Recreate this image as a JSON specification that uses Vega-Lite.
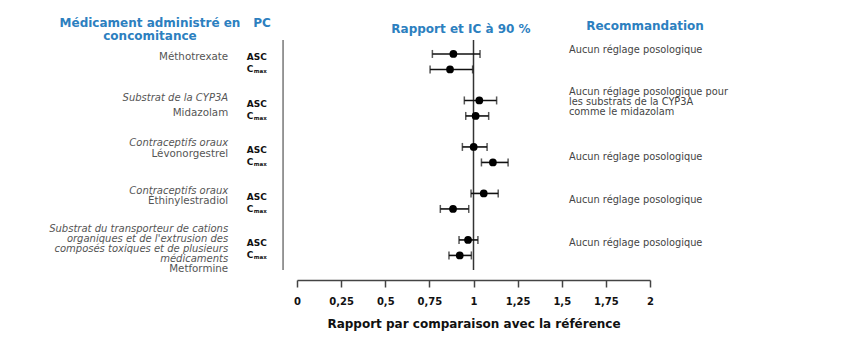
{
  "$schema": "https://vega.github.io/schema/vega-lite/v6.json",
  "autosize": {"type": "none"},
  "width": 353,
  "height": 230,
  "padding": {"left": 297, "top": 40, "right": 201, "bottom": 69},
  "background": "white",
  "config": {"view": {"stroke": null}, "font": "DejaVu Sans"},
  "datasets": {
    "pk": [
      {"drug": "Méthotrexate", "pc": "ASC", "pos": 0, "ratio": 0.886, "lo": 0.767, "hi": 1.037},
      {"drug": "Méthotrexate", "pc": "Cmax", "pos": 1, "ratio": 0.867, "lo": 0.754, "hi": 0.995},
      {"drug": "Midazolam", "pc": "ASC", "pos": 3, "ratio": 1.033, "lo": 0.948, "hi": 1.131},
      {"drug": "Midazolam", "pc": "Cmax", "pos": 4, "ratio": 1.012, "lo": 0.956, "hi": 1.086},
      {"drug": "Lévonorgestrel", "pc": "ASC", "pos": 6, "ratio": 1.001, "lo": 0.937, "hi": 1.077},
      {"drug": "Lévonorgestrel", "pc": "Cmax", "pos": 7, "ratio": 1.11, "lo": 1.045, "hi": 1.196},
      {"drug": "Éthinylestradiol", "pc": "ASC", "pos": 9, "ratio": 1.058, "lo": 0.986, "hi": 1.14},
      {"drug": "Éthinylestradiol", "pc": "Cmax", "pos": 10, "ratio": 0.884, "lo": 0.812, "hi": 0.973},
      {"drug": "Metformine", "pc": "ASC", "pos": 12, "ratio": 0.969, "lo": 0.918, "hi": 1.025},
      {"drug": "Metformine", "pc": "Cmax", "pos": 13, "ratio": 0.922, "lo": 0.861, "hi": 0.988}
    ],
    "labels": [
      {"pos": 0.19, "text": "Méthotrexate", "style": "normal"},
      {"pos": 2.84, "text": "Substrat de la CYP3A", "style": "italic"},
      {"pos": 3.83, "text": "Midazolam", "style": "normal"},
      {"pos": 5.74, "text": "Contraceptifs oraux", "style": "italic"},
      {"pos": 6.45, "text": "Lévonorgestrel", "style": "normal"},
      {"pos": 8.82, "text": "Contraceptifs oraux", "style": "italic"},
      {"pos": 9.48, "text": "Éthinylestradiol", "style": "normal"},
      {"pos": 11.29, "text": "Substrat du transporteur de cations\norganiques et de l'extrusion des\ncomposés toxiques et de plusieurs\nmédicaments", "style": "italic"},
      {"pos": 13.89, "text": "Metformine", "style": "normal"}
    ],
    "recs": [
      {"pos": -0.26, "text": "Aucun réglage posologique"},
      {"pos": 2.45, "text": "Aucun réglage posologique pour\nles substrats de la CYP3A\ncomme le midazolam"},
      {"pos": 6.65, "text": "Aucun réglage posologique"},
      {"pos": 9.42, "text": "Aucun réglage posologique"},
      {"pos": 12.19, "text": "Aucun réglage posologique"}
    ]
  },
  "layer": [
    {
      "data": {"name": "pk"},
      "mark": {"type": "circle", "opacity": 0, "size": 1},
      "encoding": {
        "x": {
          "field": "ratio", "type": "quantitative",
          "scale": {"domain": [0, 2], "zero": false, "nice": false},
          "axis": {
            "values": [0, 0.25, 0.5, 0.75, 1, 1.25, 1.5, 1.75, 2],
            "labelExpr": "replace(format(datum.value, '~g'), '.', ',')",
            "title": "Rapport par comparaison avec la référence",
            "offset": 10, "grid": false,
            "domainColor": "#444", "domainWidth": 1.5,
            "tickColor": "#444", "tickWidth": 1.5, "tickSize": 7,
            "labelFont": "DejaVu Sans", "labelFontWeight": "bold", "labelFontSize": 10,
            "labelColor": "#111", "labelPadding": 9, "labelFlush": false, "labelOverlap": false,
            "titleFont": "DejaVu Sans", "titleFontWeight": "bold", "titleFontSize": 12,
            "titleColor": "#111", "titlePadding": 12
          }
        },
        "y": {
          "field": "pos", "type": "quantitative",
          "scale": {"domain": [-0.9, 13.94], "reverse": true, "zero": false, "nice": false},
          "axis": null
        }
      }
    },
    {
      "data": {"values": [{}]},
      "mark": {"type": "rule", "color": "#333", "strokeWidth": 1.5},
      "encoding": {"x": {"datum": 1, "type": "quantitative"}}
    },
    {
      "data": {"values": [{}]},
      "mark": {"type": "rule", "color": "#777", "strokeWidth": 1.5},
      "encoding": {"x": {"datum": -0.079, "type": "quantitative"}}
    },
    {
      "data": {"name": "pk"},
      "mark": {"type": "rule", "color": "#111", "strokeWidth": 1.6},
      "encoding": {
        "x": {"field": "lo", "type": "quantitative"},
        "x2": {"field": "hi"},
        "y": {"field": "pos", "type": "quantitative", "axis": null}
      }
    },
    {
      "data": {"name": "pk"},
      "mark": {"type": "tick", "orient": "vertical", "color": "#111", "size": 8, "thickness": 1.5},
      "encoding": {
        "x": {"field": "lo", "type": "quantitative"},
        "y": {"field": "pos", "type": "quantitative", "axis": null}
      }
    },
    {
      "data": {"name": "pk"},
      "mark": {"type": "tick", "orient": "vertical", "color": "#111", "size": 8, "thickness": 1.5},
      "encoding": {
        "x": {"field": "hi", "type": "quantitative"},
        "y": {"field": "pos", "type": "quantitative", "axis": null}
      }
    },
    {
      "data": {"name": "pk"},
      "mark": {"type": "circle", "color": "#000", "opacity": 1, "size": 60},
      "encoding": {
        "x": {"field": "ratio", "type": "quantitative"},
        "y": {"field": "pos", "type": "quantitative", "axis": null}
      }
    },
    {
      "data": {"name": "pk"},
      "transform": [{"filter": "datum.pc == 'ASC'"}],
      "mark": {"type": "text", "align": "left", "baseline": "middle", "fontWeight": "bold", "fontSize": 9, "color": "#111", "dy": 3.5},
      "encoding": {
        "x": {"datum": -0.285, "type": "quantitative"},
        "y": {"field": "pos", "type": "quantitative", "axis": null},
        "text": {"field": "pc"}
      }
    },
    {
      "data": {"name": "pk"},
      "transform": [{"filter": "datum.pc == 'Cmax'"}],
      "mark": {"type": "text", "align": "left", "baseline": "middle", "fontWeight": "bold", "fontSize": 9, "color": "#111", "text": "C"},
      "encoding": {
        "x": {"datum": -0.285, "type": "quantitative"},
        "y": {"field": "pos", "type": "quantitative", "axis": null}
      }
    },
    {
      "data": {"name": "pk"},
      "transform": [{"filter": "datum.pc == 'Cmax'"}],
      "mark": {"type": "text", "align": "left", "baseline": "middle", "fontWeight": "bold", "fontSize": 5.5, "color": "#111", "text": "max", "dx": 7, "dy": 2},
      "encoding": {
        "x": {"datum": -0.285, "type": "quantitative"},
        "y": {"field": "pos", "type": "quantitative", "axis": null}
      }
    },
    {
      "data": {"name": "labels"},
      "transform": [{"filter": "datum.style == 'italic'"}],
      "mark": {"type": "text", "align": "right", "baseline": "middle", "fontStyle": "italic", "fontSize": 10, "color": "#555", "lineBreak": "\n", "lineHeight": 10},
      "encoding": {
        "x": {"datum": -0.39, "type": "quantitative"},
        "y": {"field": "pos", "type": "quantitative", "axis": null},
        "text": {"field": "text"}
      }
    },
    {
      "data": {"name": "labels"},
      "transform": [{"filter": "datum.style == 'normal'"}],
      "mark": {"type": "text", "align": "right", "baseline": "middle", "fontSize": 10.3, "color": "#555"},
      "encoding": {
        "x": {"datum": -0.39, "type": "quantitative"},
        "y": {"field": "pos", "type": "quantitative", "axis": null},
        "text": {"field": "text"}
      }
    },
    {
      "data": {"name": "recs"},
      "mark": {"type": "text", "align": "left", "baseline": "middle", "fontSize": 9.8, "color": "#444", "lineBreak": "\n", "lineHeight": 9.8},
      "encoding": {
        "x": {"datum": 1.541, "type": "quantitative"},
        "y": {"field": "pos", "type": "quantitative", "axis": null},
        "text": {"field": "text"}
      }
    },
    {
      "data": {"values": [{}]},
      "mark": {"type": "text", "align": "center", "baseline": "middle", "fontWeight": "bold", "fontSize": 12, "color": "#2c80bf", "lineBreak": "\n", "lineHeight": 13.5, "text": "Médicament administré en\nconcomitance"},
      "encoding": {
        "x": {"datum": -0.833, "type": "quantitative"},
        "y": {"datum": -2.02, "type": "quantitative"}
      }
    },
    {
      "data": {"values": [{}]},
      "mark": {"type": "text", "align": "center", "baseline": "middle", "fontWeight": "bold", "fontSize": 12, "color": "#2c80bf", "text": "PC"},
      "encoding": {
        "x": {"datum": -0.198, "type": "quantitative"},
        "y": {"datum": -2.02, "type": "quantitative"}
      }
    },
    {
      "data": {"values": [{}]},
      "mark": {"type": "text", "align": "center", "baseline": "middle", "fontWeight": "bold", "fontSize": 12, "color": "#2c80bf", "text": "Rapport et IC à 90 %"},
      "encoding": {
        "x": {"datum": 0.929, "type": "quantitative"},
        "y": {"datum": -1.61, "type": "quantitative"}
      }
    },
    {
      "data": {"values": [{}]},
      "mark": {"type": "text", "align": "center", "baseline": "middle", "fontWeight": "bold", "fontSize": 12, "color": "#2c80bf", "text": "Recommandation"},
      "encoding": {
        "x": {"datum": 1.972, "type": "quantitative"},
        "y": {"datum": -1.81, "type": "quantitative"}
      }
    }
  ]
}
